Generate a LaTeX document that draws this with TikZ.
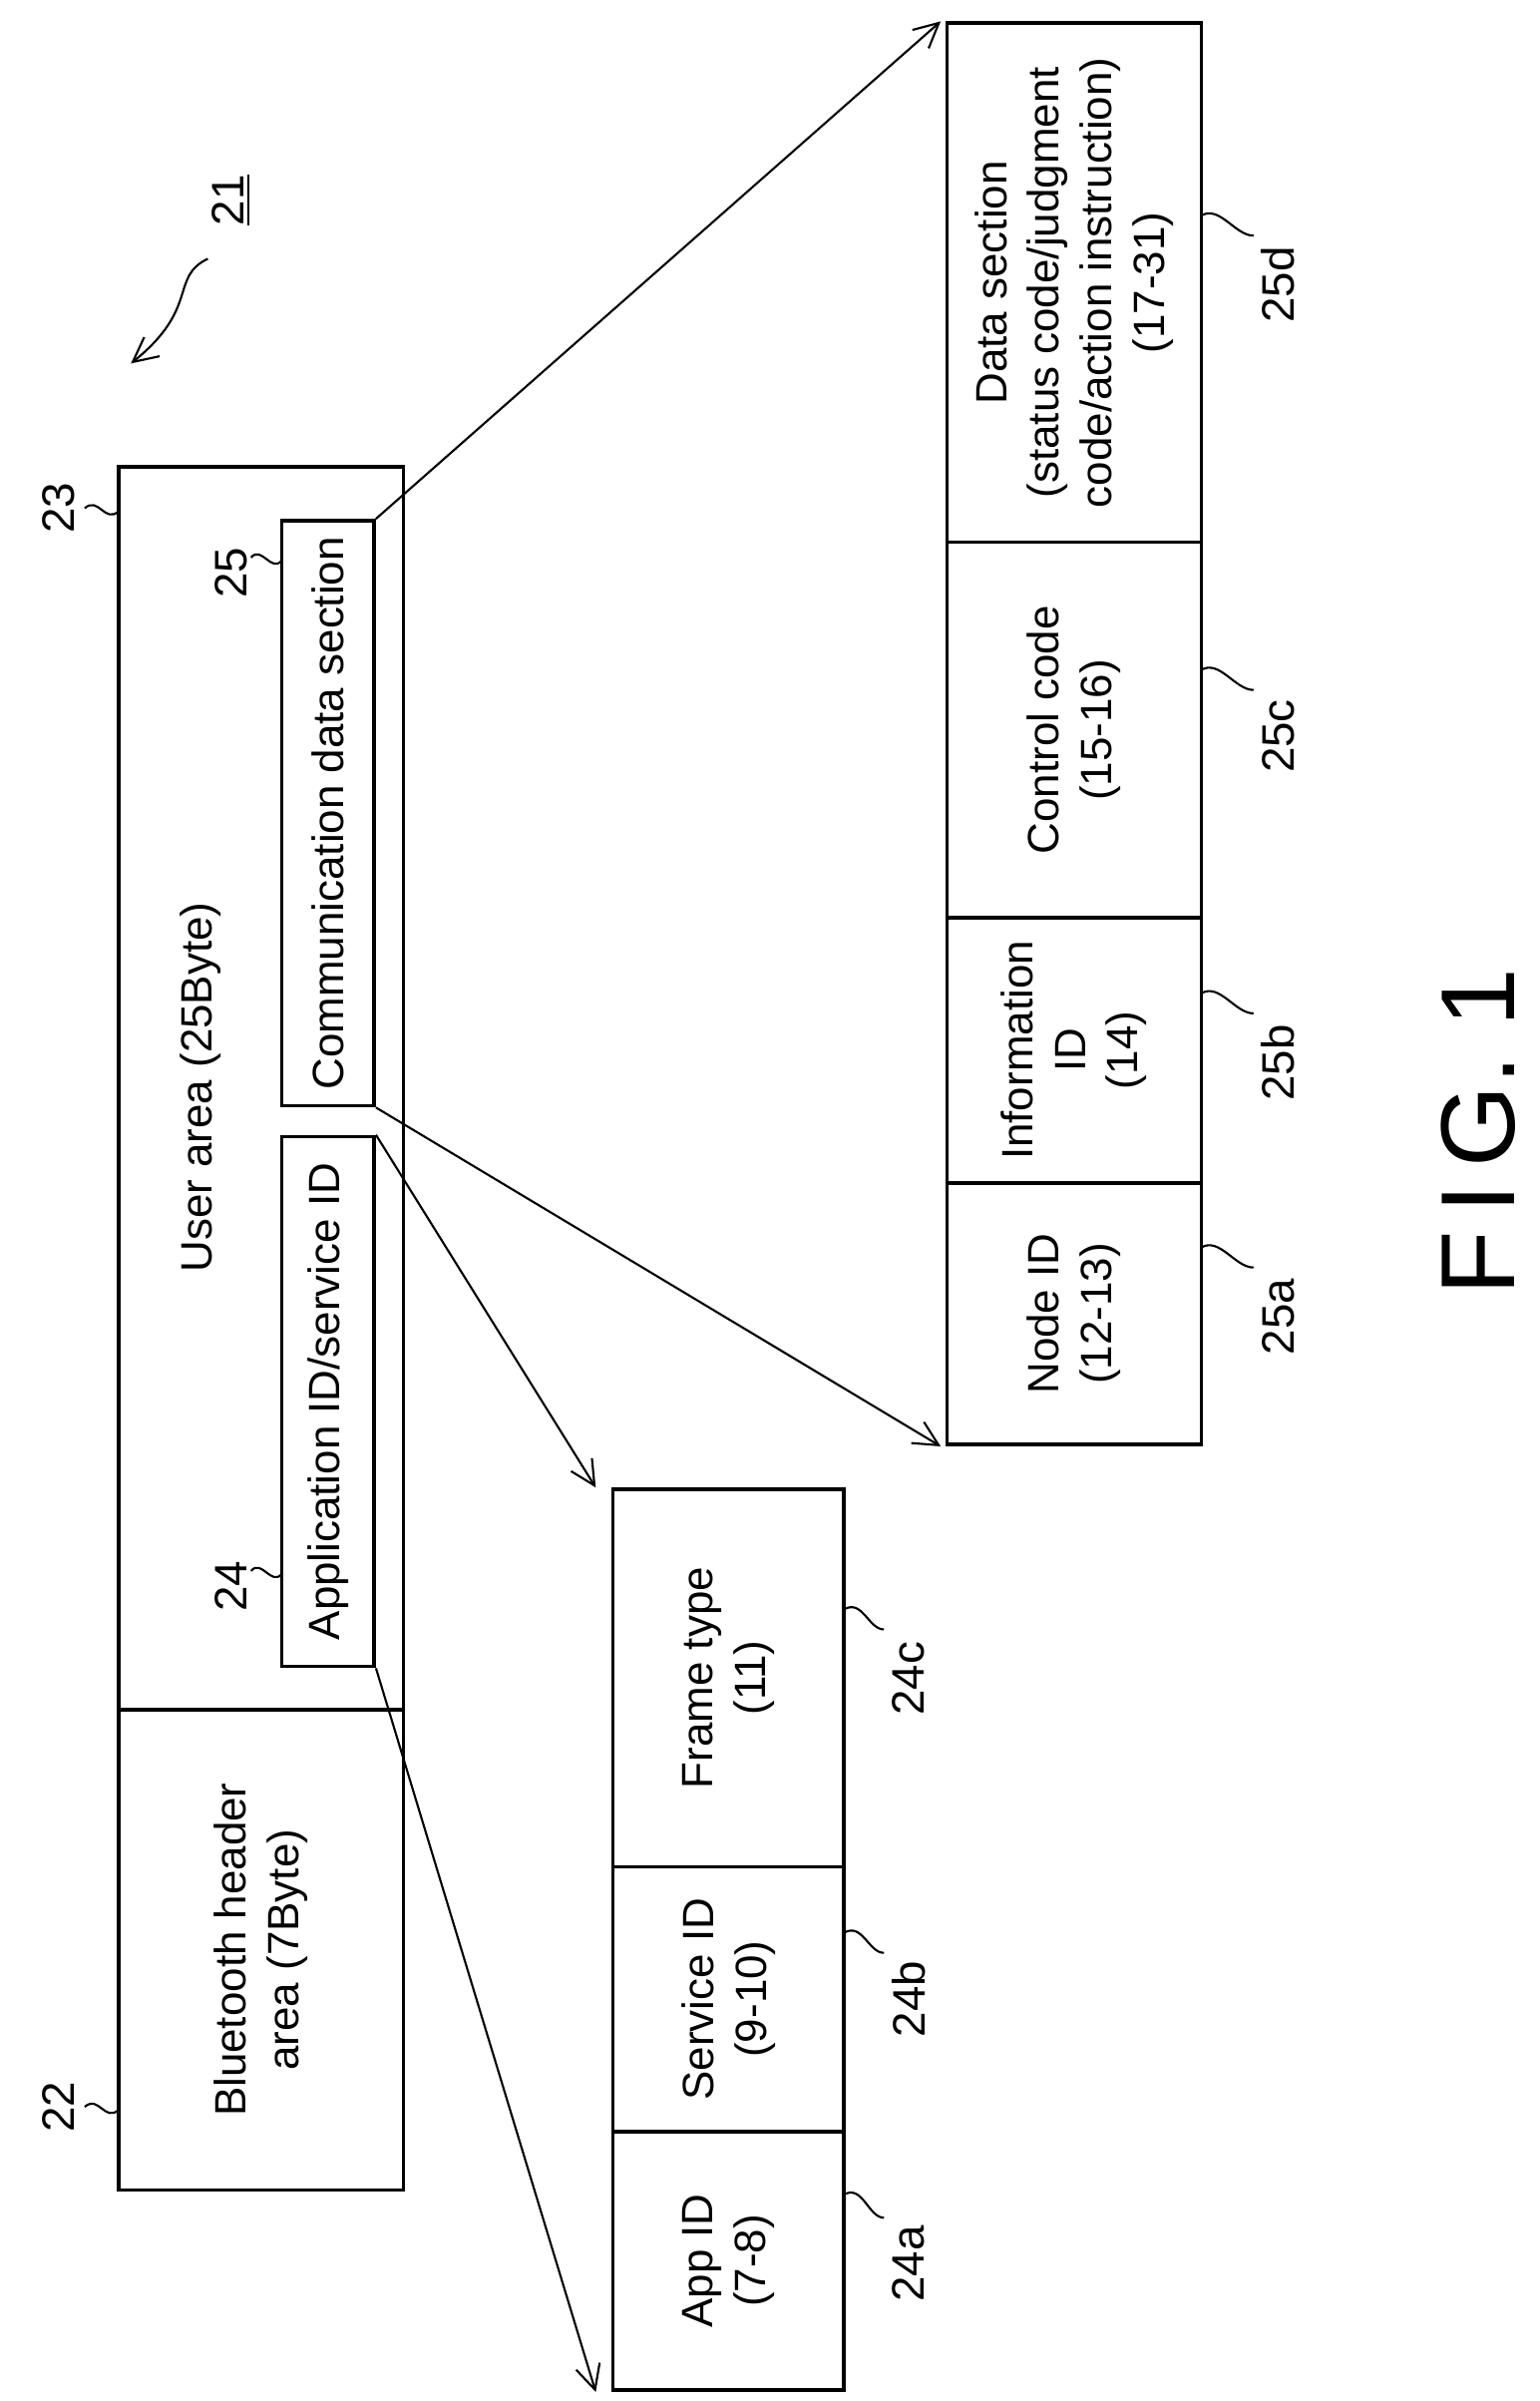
\documentclass[tikz,border=0pt]{standalone}
\usepackage{fontspec}
\setmainfont{Liberation Sans}
\usetikzlibrary{positioning,calc,arrows.meta}

\begin{document}
\begin{tikzpicture}[x=0.01544cm,y=-0.01544cm]
	\tikzset{
		box/.style={
			draw,
			line width=1pt,
			rotate=90,
			align=center,
			inner sep=0pt,
			font=\fontsize{12.5}{15}\selectfont
		},
		ref/.style={
			rotate=90,
			font=\fontsize{13}{15}\selectfont
		},
		lead/.style={line width=0.6pt},
		arr/.style={line width=0.6pt,-{Straight Barb[length=7pt,width=7pt]}}
	}
	\useasboundingbox (0,0) rectangle (1000,1559);
	
	% ======= frame 21 =======
	\node[box,minimum width=312*0.01544cm,minimum height=185*0.01544cm] (b22) at (169.5,1266) {Bluetooth header\\area (7Byte)};
	\node[box,minimum width=807*0.01544cm,minimum height=185*0.01544cm] (b23) at (169.5,706.5) {};
	\node[box,draw=none] (t23a) at (130,706) {User area (25Byte)};
	\node[box,minimum width=344*0.01544cm,minimum height=60*0.01544cm] (b24) at (213,910) {Application ID/service ID};
	\node[box,minimum width=380*0.01544cm,minimum height=60*0.01544cm] (b25) at (213,528) {Communication data section};
	
	% ======= detail 24 =======
	\node[box,minimum width=245*0.01544cm,minimum height=150*0.01544cm] (b24c) at (473,1089.5) {Frame type\\(11)};
	\node[box,minimum width=172*0.01544cm,minimum height=150*0.01544cm] (b24b) at (473,1298) {Service ID\\(9-10)};
	\node[box,minimum width=168*0.01544cm,minimum height=150*0.01544cm] (b24a) at (473,1468) {App ID\\(7-8)};
	
	% ======= detail 25 =======
	\node[box,minimum width=337*0.01544cm,minimum height=165*0.01544cm] (b25d) at (697.5,183.5) {Data section\\(status code/judgment\\code/action instruction)\\(17-31)};
	\node[box,minimum width=244*0.01544cm,minimum height=165*0.01544cm] (b25c) at (697.5,474) {Control code\\(15-16)};
	\node[box,minimum width=172*0.01544cm,minimum height=165*0.01544cm] (b25b) at (697.5,682) {Information\\ID\\(14)};
	\node[box,minimum width=170*0.01544cm,minimum height=165*0.01544cm] (b25a) at (697.5,853) {Node ID\\(12-13)};
	
	% ======= arrows =======
	\draw[arr] (b24.south east) -- ([xshift=-10*0.01544cm]b24c.north east);
	\draw[arr] (b24.south west) -- ([xshift=-10*0.01544cm]b24a.north west);
	\draw[arr] (b25.south east) -- ([xshift=-3*0.01544cm]b25d.north east);
	\draw[arr] (b25.south west) -- ([xshift=-3*0.01544cm]b25a.north west);
	
	% ======= reference numerals =======
	\node[ref] (n22) at (38,1368) {22};
	\node[ref] (n23) at (38,330) {23};
	\node[ref] (n24) at (150,1030) {24};
	\node[ref] (n25) at (150,372) {25};
	\node[ref] (n24a) at (590,1470) {24a};
	\node[ref] (n24b) at (590,1298) {24b};
	\node[ref] (n24c) at (590,1090) {24c};
	\node[ref] (n25a) at (830,855) {25a};
	\node[ref] (n25b) at (830,690) {25b};
	\node[ref] (n25c) at (830,478) {25c};
	\node[ref] (n25d) at (830,185) {25d};
	\draw[lead] (55,1368) .. controls (64,1360) and (68,1378) .. (77,1370);
	\draw[lead] (55,330) .. controls (64,322) and (68,340) .. (77,332);
	\draw[lead] (163,1020) .. controls (170,1012) and (176,1030) .. (183,1022);
	\draw[lead] (163,362) .. controls (170,354) and (176,372) .. (183,364);
	\draw[lead] (548,1425) .. controls (560,1418) and (564,1440) .. (574,1440);
	\draw[lead] (548,1255) .. controls (560,1248) and (564,1268) .. (574,1268);
	\draw[lead] (548,1045) .. controls (560,1038) and (564,1058) .. (574,1058);
	\draw[lead] (780,810) .. controls (792,803) and (802,823) .. (814,823);
	\draw[lead] (780,645) .. controls (792,638) and (802,658) .. (814,658);
	\draw[lead] (780,435) .. controls (792,428) and (802,448) .. (814,448);
	\draw[lead] (780,140) .. controls (792,133) and (802,153) .. (814,153);
	
	% ======= 21 and figure label =======
	\node[ref] (n21) at (150,130) {\underline{21}};
	\coordinate (p21) at (85,236);
	\draw[arr] (135,168) .. controls (110,180) and (130,200) .. (p21);
	\node[rotate=90,font=\fontsize{30}{34}\selectfont] (fig) at (960,735) {F\,I\,G. 1};
\end{tikzpicture}
\end{document}
